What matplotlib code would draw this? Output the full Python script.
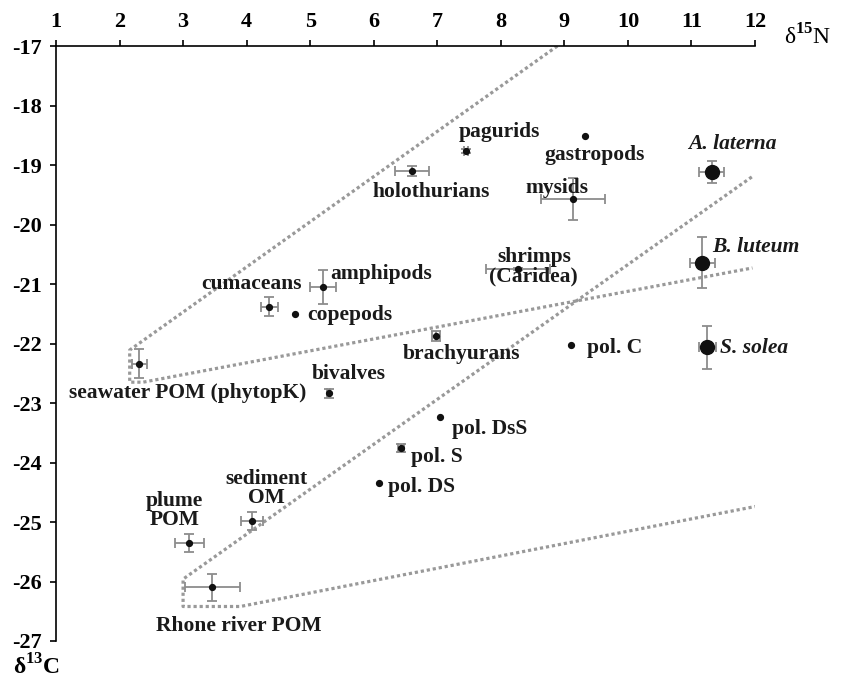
import numpy as np
import matplotlib
matplotlib.use('Agg')
import matplotlib.pyplot as plt

plt.rcParams['font.family'] = ['Liberation Serif', 'DejaVu Serif']
plt.rcParams['mathtext.fontset'] = 'custom'
plt.rcParams['mathtext.rm'] = 'Liberation Serif'
plt.rcParams['mathtext.bf'] = 'Liberation Serif:bold'

# groups: name, d15N, d13C, sd N, sd C
names = ['seawater POM', 'cumaceans', 'amphipods', 'copepods', 'brachyurans', 'bivalves',
         'pol. DsS', 'pol. S', 'pol. DS', 'sediment OM', 'plume POM', 'Rhone river POM',
         'pagurids', 'gastropods', 'mysids', 'holothurians', 'shrimps', 'pol. C',
         'A. laterna', 'B. luteum', 'S. solea']
d15n = [2.31, 4.36, 5.20, 4.76, 6.98, 5.29, 7.05, 6.43, 6.08, 4.08, 3.10, 3.46,
        7.45, 9.32, 9.14, 6.60, 8.27, 9.11, 11.32, 11.17, 11.25]
d13c = [-22.34, -21.38, -21.05, -21.50, -21.87, -22.84, -23.24, -23.76, -24.35, -24.98, -25.36, -26.10,
        -18.76, -18.52, -19.57, -19.10, -20.75, -22.03, -19.12, -20.64, -22.06]
sd_n = [0.12, 0.14, 0.21, 0.0, 0.07, 0.03, 0.0, 0.05, 0.0, 0.17, 0.23, 0.43,
        0.03, 0.0, 0.50, 0.27, 0.50, 0.0, 0.20, 0.20, 0.13]
sd_c = [0.24, 0.16, 0.28, 0.0, 0.08, 0.07, 0.0, 0.07, 0.0, 0.15, 0.15, 0.22,
        0.03, 0.0, 0.36, 0.08, 0.02, 0.0, 0.19, 0.43, 0.36]
fish = [False] * 18 + [True] * 3

# enrichment wedges (dotted)
wedge1_x = [8.89, 2.16, 2.16, 2.37, 11.96]
wedge1_y = [-17.0, -22.11, -22.65, -22.65, -20.73]
wedge2_x = [11.95, 3.0, 3.0, 3.90, 12.05]
wedge2_y = [-19.20, -25.96, -26.42, -26.42, -24.73]

# labels: text, x, y, ha, italic
labels = [
    ('seawater POM (phytopK)', 3.07, -22.83, 'center', False),
    ('cumaceans', 4.08, -21.00, 'center', False),
    ('amphipods', 5.31, -20.83, 'left', False),
    ('copepods', 4.96, -21.52, 'left', False),
    ('brachyurans', 7.38, -22.18, 'center', False),
    ('bivalves', 5.61, -22.51, 'center', False),
    ('pol. DsS', 7.23, -23.43, 'left', False),
    ('pol. S', 6.58, -23.91, 'left', False),
    ('pol. DS', 6.23, -24.41, 'left', False),
    ('sediment\nOM', 4.31, -24.44, 'center', False),
    ('plume\nPOM', 2.87, -24.80, 'center', False),
    ('Rhone river POM', 3.88, -26.75, 'center', False),
    ('pagurids', 7.98, -18.44, 'center', False),
    ('gastropods', 9.48, -18.83, 'center', False),
    ('mysids', 8.89, -19.39, 'center', False),
    ('holothurians', 6.91, -19.45, 'center', False),
    ('shrimps\n(Caridea)', 8.52, -20.71, 'center', False),
    ('pol. C', 9.36, -22.08, 'left', False),
    ('A. laterna', 11.64, -18.64, 'center', True),
    ('B. luteum', 11.33, -20.37, 'left', True),
    ('S. solea', 11.45, -22.08, 'left', True),
]

xticks = list(range(1, 13))
yticks = list(range(-17, -28, -1))

fig = plt.figure(figsize=(8.43, 6.86), dpi=100)
ax = fig.add_axes([0.0664, 0.0656, 0.8292, 0.8673])

gray = '#999999'
ax.plot(wedge1_x, wedge1_y, color=gray, lw=2.3, ls=(0, (1, 0.9)), zorder=1)
ax.plot(wedge2_x, wedge2_y, color=gray, lw=2.3, ls=(0, (1, 0.9)), zorder=1)

for i in range(len(names)):
    xe = sd_n[i] if sd_n[i] > 0 else None
    ye = sd_c[i] if sd_c[i] > 0 else None
    if xe is not None or ye is not None:
        ax.errorbar(d15n[i], d13c[i], xerr=xe, yerr=ye, fmt='none', ecolor='#8c8c8c',
                    elinewidth=1.3, capsize=3.5, capthick=1.3, zorder=2)
    ax.plot(d15n[i], d13c[i], 'o', color='#111111', ms=10 if fish[i] else 4.2,
            mec='#111111', zorder=3)

for txt, x, y, ha, it in labels:
    ax.text(x, y, txt, ha=ha, va='center', fontsize=15.5, fontweight='bold',
            style='italic' if it else 'normal', color='#1a1a1a', linespacing=0.92)

ax.set_xlim(1, 12)
ax.set_ylim(-27, -17)
ax.spines['right'].set_visible(False)
ax.spines['bottom'].set_visible(False)
ax.spines['top'].set_linewidth(1.2)
ax.spines['left'].set_linewidth(1.2)
ax.xaxis.tick_top()
ax.set_xticks(xticks)
ax.set_xticklabels([str(v) for v in xticks])
ax.set_yticks(yticks)
ax.set_yticklabels([str(v) for v in yticks])
ax.tick_params(direction='out', length=4, width=1.2, labelsize=16, pad=6)
for lab in ax.get_xticklabels() + ax.get_yticklabels():
    lab.set_fontweight('bold')

fig.text(0.930, 0.9465, r'δ$^{\mathbf{15}}$N', fontsize=17, va='center', ha='left')
fig.text(0.0158, 0.028, r'δ$^{\mathbf{13}}$C', fontsize=17, va='center', ha='left',
         fontweight='bold')

fig.savefig('out.png', dpi=100)
